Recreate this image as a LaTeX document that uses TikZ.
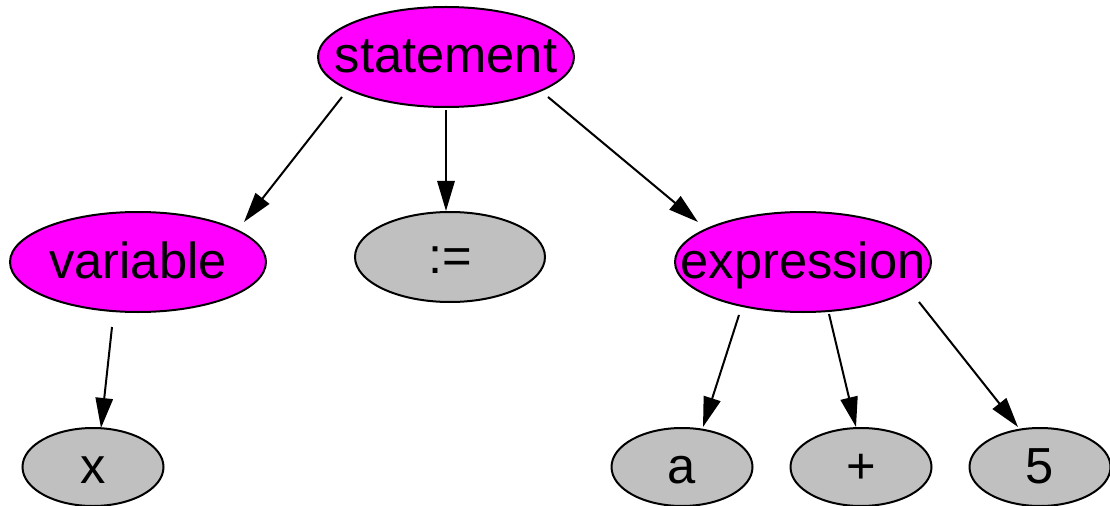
\documentclass[tikz,border=0pt]{standalone}
\usepackage{fontspec}
\setmainfont{Liberation Sans}
\usetikzlibrary{shapes.geometric,arrows.meta,calc}
\definecolor{leafgray}{RGB}{192,192,192}
\definecolor{rulemagenta}{RGB}{255,0,255}
\tikzset{
  tree node/.style={ellipse, draw=black, line width=1.5pt, inner sep=0pt,
    text height=26pt, text depth=2pt, font=\fontsize{38}{40}\selectfont},
  nonterm/.style={tree node, fill=rulemagenta, minimum width=192pt, minimum height=75pt},
  term/.style={tree node, fill=leafgray, minimum width=105.75pt, minimum height=58.5pt},
  edge/.style={draw=black, line width=1.5pt, -{Triangle[length=22.5pt,width=13pt]}}
}

\begin{document}
\begin{tikzpicture}[x=0.75pt, y=-0.75pt]
  \useasboundingbox (0,0) rectangle (1110,506);
  % parse tree of  x := a + 5
  \node[nonterm] (statement)  at (446,57)  {\makebox[0pt]{statement}};
  \node[nonterm] (variable)   at (138,262) {\makebox[0pt]{variable}};
  \node[term, minimum width=142.5pt, minimum height=67.5pt]
                 (assign)     at (450,257) {\makebox[0pt]{:=}};
  \node[nonterm] (expression) at (803,262) {\makebox[0pt]{expression}};
  \node[term]    (x)          at (93,467)  {\makebox[0pt]{x}};
  \node[term]    (a)          at (682,467) {\makebox[0pt]{a}};
  \node[term]    (plus)       at (861,467) {\makebox[0pt]{+}};
  \node[term]    (five)       at (1040,467){\makebox[0pt]{5}};

  \draw[edge] ($(statement)+(-104,40)$) -- ($(variable)+(106,-40)$);
  \draw[edge] ($(statement)+(0,53)$)    -- ($(assign)+(-4,-46)$);
  \draw[edge] ($(statement)+(102,40)$)  -- ($(expression)+(-105,-40)$);
  \draw[edge] ($(variable)+(-26,65)$)   -- ($(x)+(8,-39)$);
  \draw[edge] ($(expression)+(-64,53)$) -- ($(a)+(21,-40)$);
  \draw[edge] ($(expression)+(26,52)$)  -- ($(plus)+(-5,-40)$);
  \draw[edge] ($(expression)+(116,40)$) -- ($(five)+(-22,-40)$);
\end{tikzpicture}
\end{document}
